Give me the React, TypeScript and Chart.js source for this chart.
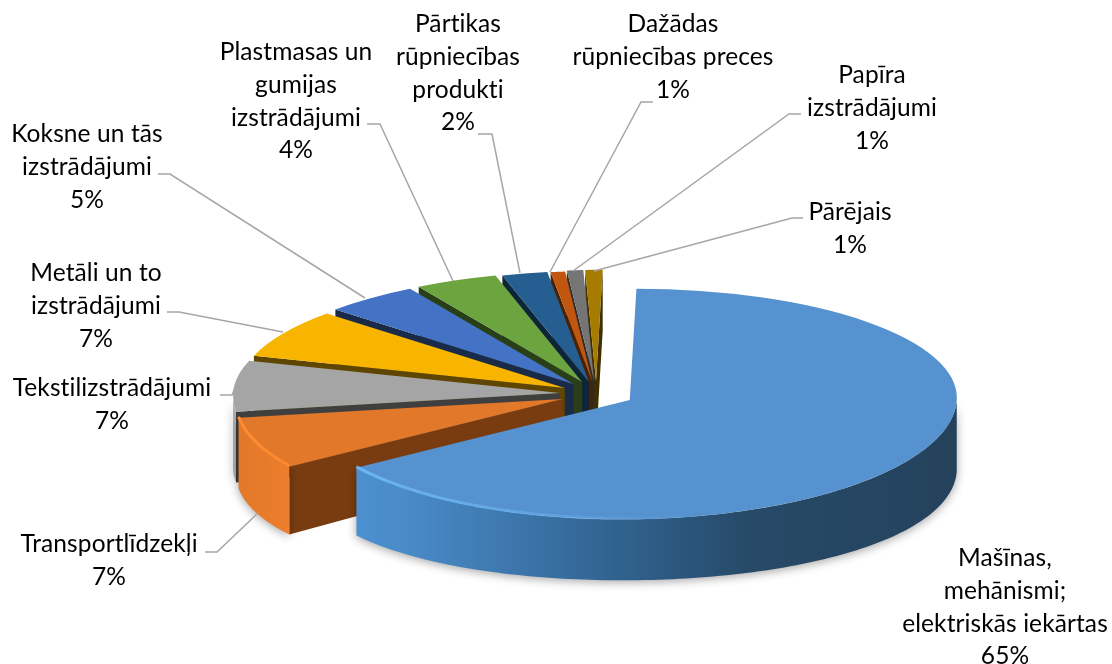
import React, { useEffect, useRef } from "react";
import { Chart, registerables } from "chart.js";

Chart.register(...registerables);

const categories = [
  "Mašīnas,\nmehānismi;\nelektriskās iekārtas",
  "Transportlīdzekļi",
  "Tekstilizstrādājumi",
  "Metāli un to\nizstrādājumi",
  "Koksne un tās\nizstrādājumi",
  "Plastmasas un\ngumijas\nizstrādājumi",
  "Pārtikas\nrūpniecības\nprodukti",
  "Dažādas\nrūpniecības preces",
  "Papīra\nizstrādājumi",
  "Pārējais",
];
const shares = [65.4, 7.1, 7.2, 7.0, 4.65, 4.06, 2.23, 0.71, 0.8, 0.85];
const sliceColors = ["#5592cf", "#e2782a", "#a5a5a5", "#f7b500", "#4472c4", "#6ca540", "#255e91", "#c0560f", "#757575", "#a67c00"];

// layout of the hand-placed data labels: centre x, middle of first line
const labelAnchors: [number, number][] = [
  [1005, 558], [109, 544], [112, 388], [96, 273], [87, 134], [296, 52], [458, 24], [673, 24], [872, 75], [850, 212],
];
// leader lines
const leaders: [number, number][][] = [
  [],
  [[205, 552], [217, 552], [258, 513]],
  [[220, 395], [232, 395], [237, 383]],
  [[167, 312], [179, 312], [283, 332]],
  [[158, 174], [170, 174], [365, 298]],
  [[367, 124], [380, 124], [453, 281]],
  [[478, 134], [492, 134], [520, 273]],
  [[653, 102], [641, 102], [550, 272]],
  [[801, 114], [789, 114], [573, 271]],
  [[803, 218], [792, 218], [594, 271]],
];

const SQUASH_BACK = 0.34;
const SQUASH_FRONT = 0.365;
const SHEAR = 0.06;
const EXPLODE = 37;
const DEPTH_FRONT = 61;
const DEPTH_SIDE = 10;
const RADIUS = 327;

function shade(hex: string, f: number) {
  const n = parseInt(hex.slice(1), 16);
  const c = [(n >> 16) & 255, (n >> 8) & 255, n & 255].map((v) => Math.min(255, Math.round(v * f)));
  return `rgb(${c[0]},${c[1]},${c[2]})`;
}

const pie3d = {
  id: "pie3d",
  beforeDatasetDraw(chart: any) {
    const ctx: CanvasRenderingContext2D = chart.ctx;
    const arcs = chart.getDatasetMeta(0).data;
    const W = chart.width;
    const H = chart.height;
    ctx.save();
    ctx.filter = "blur(0.6px)";
    for (let i = arcs.length - 1; i >= 0; i--) {
      const arc = arcs[i];
      const { x, y, startAngle: a0, endAngle: a1, outerRadius: r } = arc;
      const mid = (a0 + a1) / 2;
      const ax = x + Math.cos(mid) * EXPLODE;
      const ay = Math.round(y + Math.sin(mid) * EXPLODE * SQUASH_BACK);
      const depth = (a: number) => DEPTH_FRONT + DEPTH_SIDE * Math.cos(a) ** 2;
      const P = (a: number, withDepth = false, nudge = 0): [number, number] => {
        const sq = Math.sin(a) > 0 ? SQUASH_FRONT : SQUASH_BACK;
        const dy = r * sq * Math.sin(a);
        return [ax + r * Math.cos(a) - SHEAR * dy, ay + dy + (withDepth ? depth(a) : 0) + nudge];
      };
      const color = sliceColors[i];

      const cut = (a: number, fill: string) => {
        const p = P(a);
        ctx.beginPath();
        ctx.moveTo(ax, ay);
        ctx.lineTo(p[0], p[1]);
        ctx.lineTo(p[0], p[1] + depth(a));
        ctx.lineTo(ax, ay + DEPTH_FRONT);
        ctx.closePath();
        ctx.fillStyle = fill;
        ctx.fill();
      };
      const wallDark = i === 1 ? "#793c10" : shade(color, 0.38);
      if (Math.cos(a0) < 0) cut(a0, wallDark);
      if (Math.cos(a1) > 0) cut(a1, wallDark);

      const from = Math.max(a0, 0);
      const to = Math.min(a1, Math.PI);
      if (to > from) {
        const steps = 120;
        ctx.beginPath();
        for (let s = 0; s <= steps; s++) {
          const p = P(from + ((to - from) * s) / steps);
          s === 0 ? ctx.moveTo(p[0], p[1]) : ctx.lineTo(p[0], p[1]);
        }
        for (let s = steps; s >= 0; s--) {
          const p = P(from + ((to - from) * s) / steps, true);
          ctx.lineTo(p[0], p[1]);
        }
        ctx.closePath();
        const left = P(to)[0];
        const right = P(from)[0];
        const g = ctx.createLinearGradient(left, 0, right, 0);
        if (i === 0) {
          g.addColorStop(0, "#4d90d0");
          g.addColorStop(0.08, "#4a8bc8");
          g.addColorStop(0.3, "#3a72a6");
          g.addColorStop(0.5, "#2d5b84");
          g.addColorStop(0.65, "#264a68");
          g.addColorStop(1, "#25425c");
        } else {
          g.addColorStop(0, shade(color, 1.0));
          g.addColorStop(1, shade(color, 1.05));
        }
        ctx.save();
        ctx.shadowColor = "rgba(0,0,0,0.35)";
        ctx.shadowBlur = 10;
        ctx.shadowOffsetY = 2;
        ctx.fillStyle = g;
        ctx.fill();
        ctx.restore();
      }

      // top face, drawn by the library's own arc element: back and front halves
      [
        { sq: SQUASH_BACK, top: 0, h: ay },
        { sq: SQUASH_FRONT, top: ay, h: H - ay },
      ].forEach(({ sq, top, h }) => {
        ctx.save();
        ctx.beginPath();
        ctx.rect(0, top, W, h);
        ctx.clip();
        ctx.translate(ax, ay);
        ctx.transform(1, 0, -SHEAR, 1, 0, 0);
        ctx.scale(1, sq);
        ctx.translate(-x, -y);
        arc.draw(ctx);
        ctx.restore();
      });

      if (i <= 1) {
        const hiFrom = i === 0 ? Math.PI * 0.42 : Math.max(a0, 0);
        const hiTo = Math.min(a1, Math.PI);
        const startX = P(hiTo)[0];
        const endX = P(hiFrom)[0];
        const hg = ctx.createLinearGradient(startX, 0, endX, 0);
        hg.addColorStop(0, i === 0 ? "rgba(110,185,245,0.95)" : "rgba(255,140,50,1)");
        hg.addColorStop(1, i === 0 ? "rgba(110,185,245,0)" : "rgba(255,140,50,0.9)");
        ctx.beginPath();
        for (let s = 0; s <= 80; s++) {
          const p = P(hiFrom + ((hiTo - hiFrom) * s) / 80, false, -1);
          s === 0 ? ctx.moveTo(p[0], p[1]) : ctx.lineTo(p[0], p[1]);
        }
        ctx.strokeStyle = hg;
        ctx.lineWidth = 3;
        ctx.stroke();
      }
    }
    ctx.restore();
    return false;
  },
  afterDraw(chart: any) {
    const ctx: CanvasRenderingContext2D = chart.ctx;
    ctx.save();
    ctx.strokeStyle = "#a6a6a6";
    ctx.lineWidth = 1.5;
    leaders.forEach((pts) => {
      if (!pts.length) return;
      ctx.beginPath();
      pts.forEach((p, k) => (k === 0 ? ctx.moveTo(p[0], p[1]) : ctx.lineTo(p[0], p[1])));
      ctx.stroke();
    });
    ctx.fillStyle = "#000";
    ctx.font = "24.5px Lato";
    (ctx as any).letterSpacing = "0.1px";
    ctx.textAlign = "center";
    ctx.textBaseline = "middle";
    categories.forEach((name, i) => {
      const lines = [...name.split("\n"), `${Math.round(shares[i])}%`];
      const [cx, cy] = labelAnchors[i];
      lines.forEach((ln, k) => ctx.fillText(ln, cx, cy + k * 32.8));
    });
    ctx.restore();
  },
};

export default function App() {
  const ref = useRef<HTMLCanvasElement>(null);
  useEffect(() => {
    document.body.style.margin = "0";
    const chart = new Chart(ref.current!, {
      type: "pie",
      data: {
        labels: categories.map((c) => c.replace(/\n/g, " ")),
        datasets: [{ data: shares, backgroundColor: sliceColors, borderWidth: 0, radius: RADIUS }],
      },
      options: {
        responsive: false,
        animation: false,
        devicePixelRatio: 1,
        layout: { padding: { left: 82, top: 124 } },
        plugins: { legend: { display: false }, tooltip: { enabled: false } },
      },
      plugins: [pie3d],
    } as any);
    return () => chart.destroy();
  }, []);
  return <canvas ref={ref} width={1112} height={664} style={{ display: "block" }} />;
}
